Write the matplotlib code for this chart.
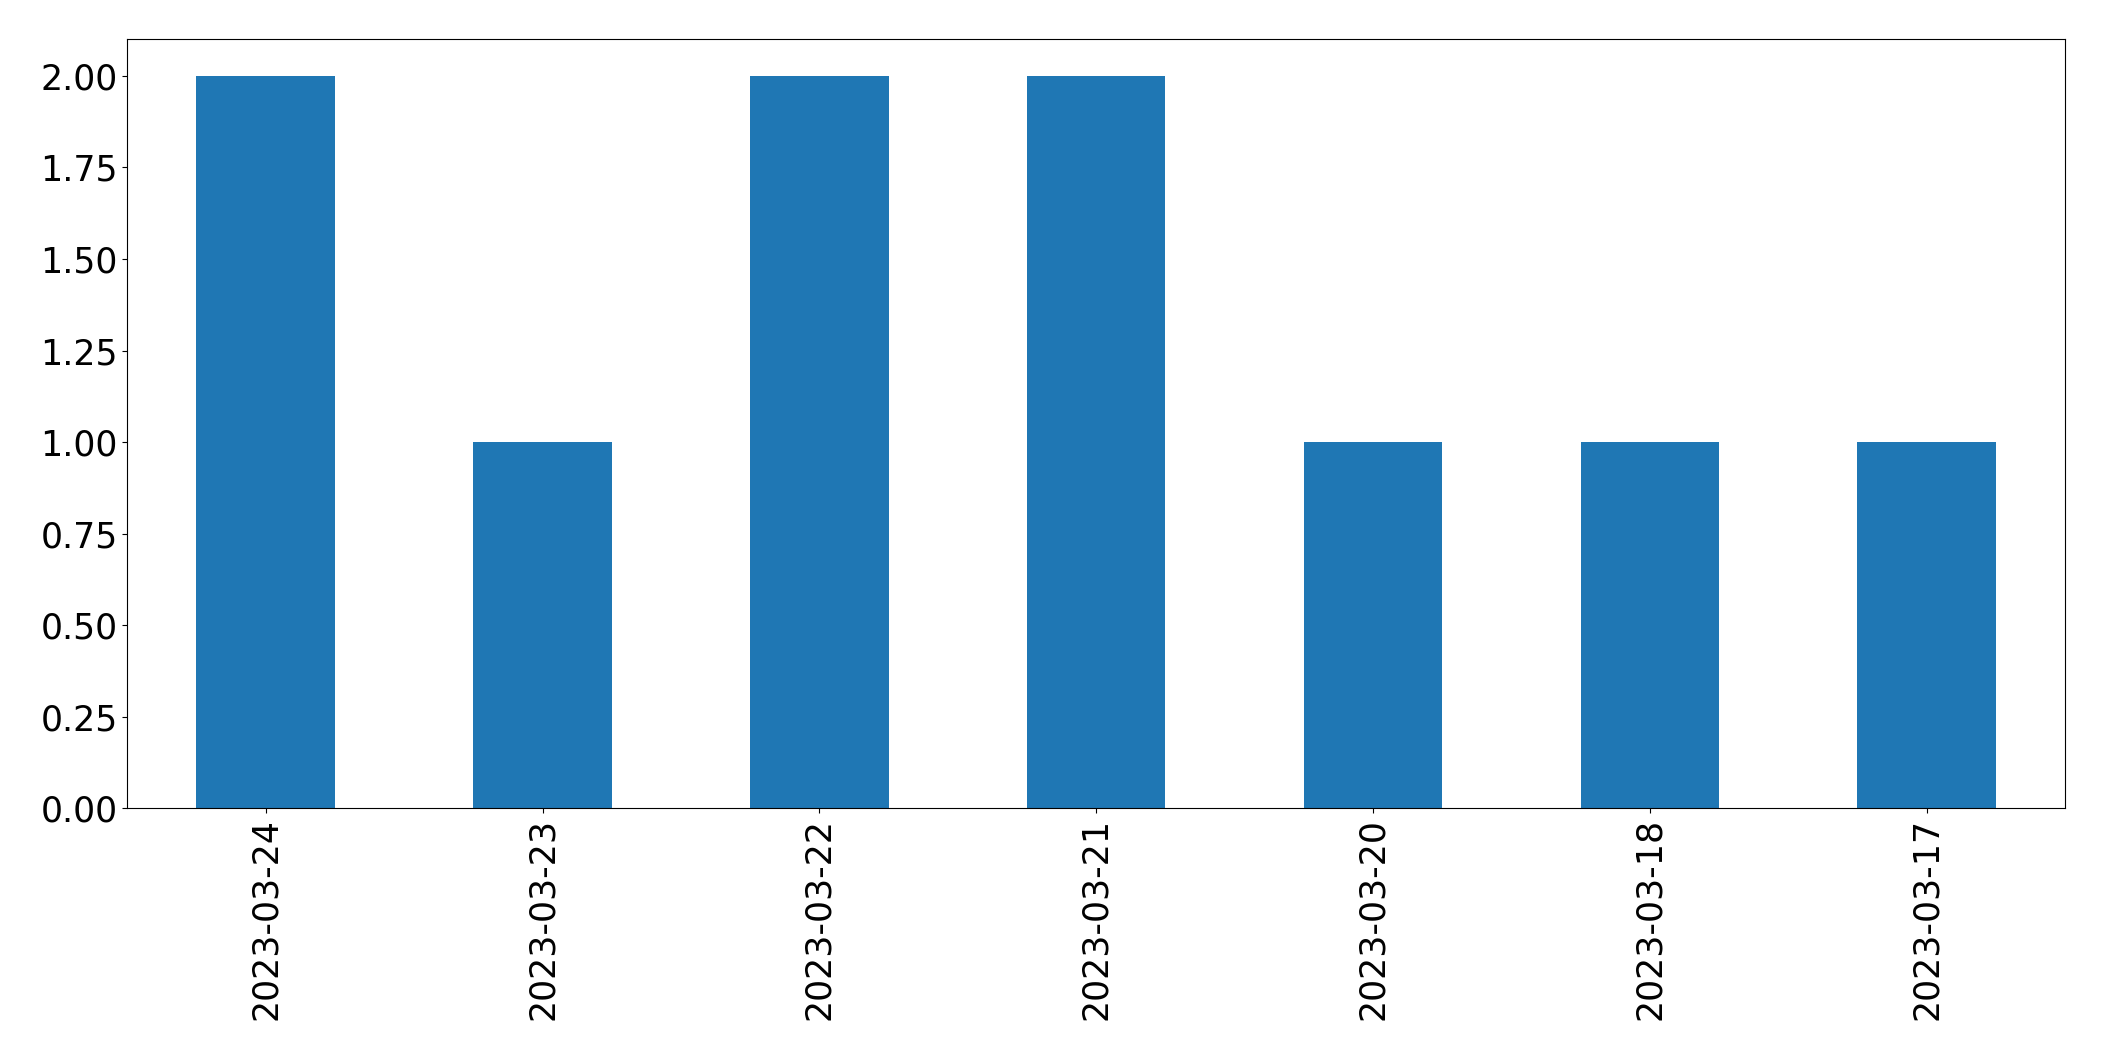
import matplotlib
matplotlib.use("Agg")
import matplotlib.pyplot as plt

dates = ["2023-03-24", "2023-03-23", "2023-03-22", "2023-03-21", "2023-03-20", "2023-03-18", "2023-03-17"]
counts = [2, 1, 2, 2, 1, 1, 1]

fig = plt.figure(figsize=(21.04, 10.61), dpi=100)
ax = fig.add_axes([0.0605, 0.238, 0.921, 0.725])
x = range(len(dates))
ax.bar(x, counts, width=0.5, color="#1f77b4")
ax.set_xlim(-0.5, len(dates) - 0.5)
ax.set_ylim(0, 2.1)
ax.set_yticks([0, 0.25, 0.5, 0.75, 1.0, 1.25, 1.5, 1.75, 2.0])
ax.set_yticklabels([f"{v:.2f}" for v in [0, 0.25, 0.5, 0.75, 1.0, 1.25, 1.5, 1.75, 2.0]])
ax.set_xticks(list(x))
ax.set_xticklabels(dates, rotation=90)
ax.tick_params(labelsize=25)
fig.savefig("out.png", dpi=100)
